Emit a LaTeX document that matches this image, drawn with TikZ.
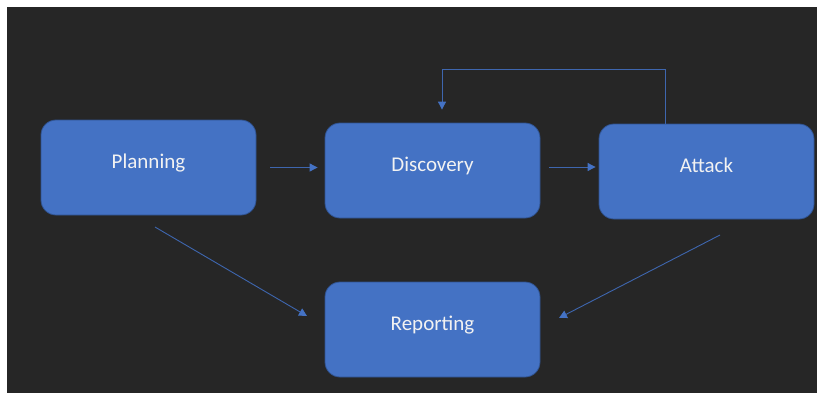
\documentclass[tikz,border=0pt]{standalone}
\usepackage{fontspec}
\setmainfont{Carlito}
\usetikzlibrary{arrows.meta}
\definecolor{bg}{HTML}{262626}
\definecolor{boxfill}{HTML}{4472C4}
\definecolor{boxline}{HTML}{2F528F}
\definecolor{conncol}{HTML}{3E66AE}
\definecolor{txt}{HTML}{F2F2F2}
\tikzset{
  stepbox/.style={draw=boxline, line width=0.8pt, fill=boxfill, rounded corners=15pt,
    minimum width=215pt, minimum height=95pt, inner sep=0pt},
  lbl/.style={text=txt, font=\fontsize{21}{25}\selectfont, inner sep=0pt, anchor=base},
  conn/.style={draw=conncol, line width=0.9pt,
    -{Triangle[width=8pt,length=8pt,color=boxfill]}},
}
\begin{document}
\begin{tikzpicture}[x=1pt,y=-1pt]
\useasboundingbox (0,0) rectangle (817,394);
\fill[white] (0,0) rectangle (817,394);
\fill[bg] (7,7) rectangle (817,393);

\node[stepbox] (plan) at (148.5,167.5) {};
\node[stepbox] (disc) at (432.5,170.5) {};
\node[stepbox] (att)  at (706.5,171.5) {};
\node[stepbox] (rep)  at (432.5,329.5) {};

\node[lbl] (planT) at ([yshift=-1pt]plan.center) {Planning};
\node[lbl] (discT) at ([yshift=-1pt]disc.center) {Discovery};
\node[lbl] (attT)  at ([yshift=-1pt]att.center)  {Attack};
\node[lbl] (repT)  at ([yshift=-1pt]rep.center)  {Reporting};

% horizontal arrows
\draw[conn, shorten <=14pt, shorten >=7pt] (plan.east) -- (plan.east -| disc.west);
\draw[conn, shorten <=9pt, shorten >=3pt] ([yshift=3.5pt]disc.east) -- ([yshift=3.5pt]disc.east -| att.west);

% feedback arrow
\coordinate (fb) at (442,69);
\draw[conn] ([xshift=-41.5pt]att.north) |- (fb) -- ([xshift=9.5pt,yshift=13pt]disc.north);

% diagonal arrows
\coordinate (pr1) at (155,227);
\coordinate (pr2) at (307,316);
\coordinate (ar1) at (720,235);
\coordinate (ar2) at (559,318);
\draw[conn] (pr1) -- (pr2);
\draw[conn] (ar1) -- (ar2);
\end{tikzpicture}
\end{document}
